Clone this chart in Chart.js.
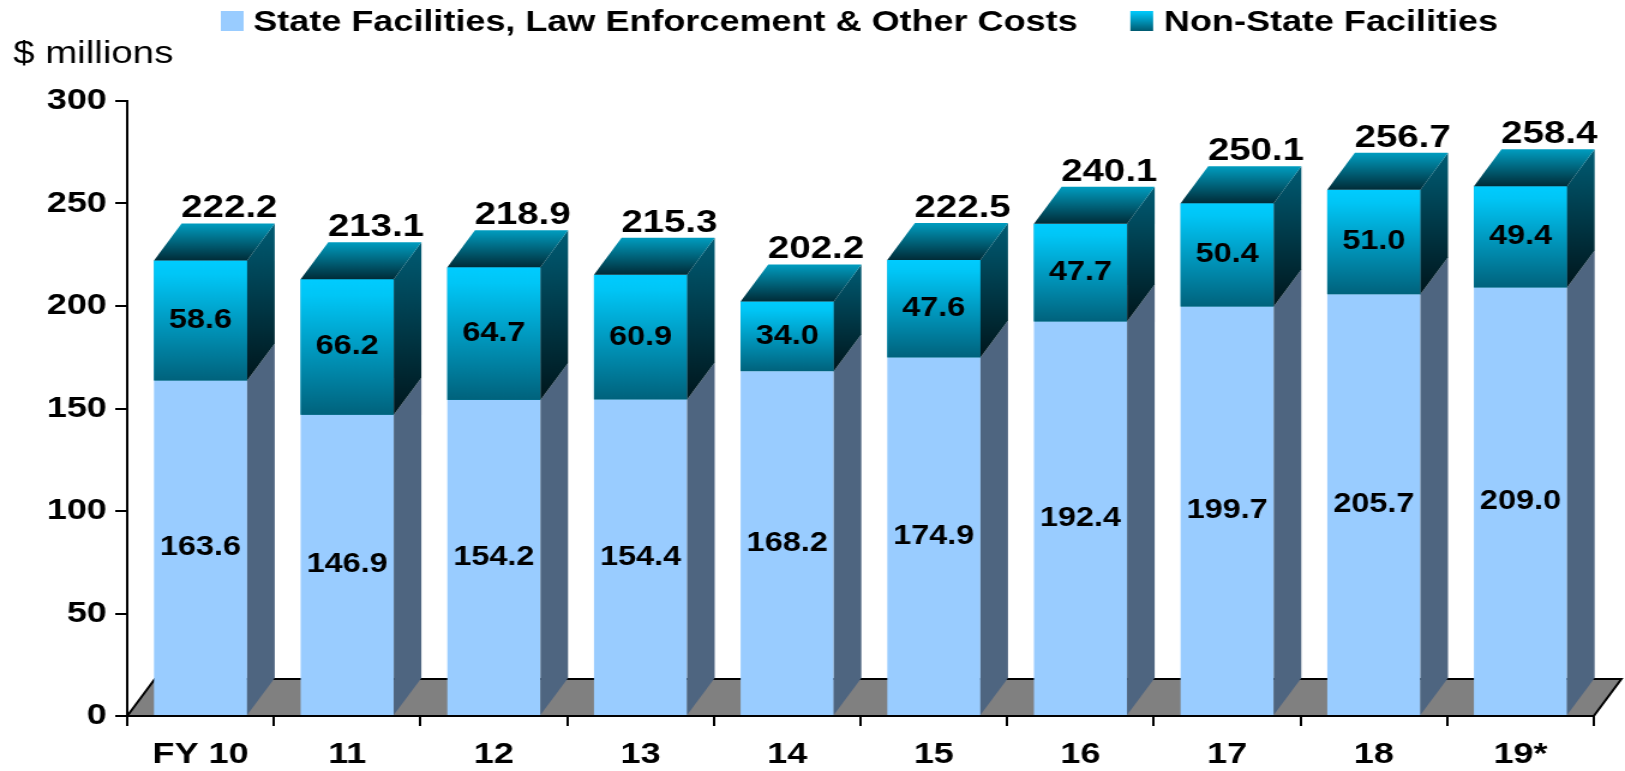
<!DOCTYPE html>
<html>
<head>
<meta charset="utf-8">
<script src="https://cdn.jsdelivr.net/npm/chart.js@4.4.0/dist/chart.umd.min.js"></script>
<style>
html, body { margin: 0; padding: 0; background: #fff; }
#chart { display: block; width: 1625px !important; height: 771px !important; }
</style>
</head>
<body>
<canvas id="chart" width="1354" height="771" style="width:1625px;height:771px"></canvas>
<script>
const years = ["FY 10", "11", "12", "13", "14", "15", "16", "17", "18", "19*"];
const stateCosts = [163.6, 146.9, 154.2, 154.4, 168.2, 174.9, 192.4, 199.7, 205.7, 209.0];
const nonStateCosts = [58.6, 66.2, 64.7, 60.9, 34.0, 47.6, 47.7, 50.4, 51.0, 49.4];
const yTicks = [0, 50, 100, 150, 200, 250, 300];
const seriesNames = ["State Facilities, Law Enforcement & Other Costs", "Non-State Facilities"];
const unitLabel = "$ millions";

const FONT = '"Liberation Sans", Arial, Helvetica, sans-serif';
// the original picture is stretched sideways (~1.2x), so the canvas is drawn
// narrower and widened by css. DX/DY is the fake 3d depth.
const DX = 23, DY = -37;

function poly(ctx, pts, fill) {
    ctx.beginPath();
    ctx.moveTo(pts[0][0], pts[0][1]);
    for (let i = 1; i < pts.length; i++) ctx.lineTo(pts[i][0], pts[i][1]);
    ctx.closePath();
    ctx.fillStyle = fill;
    ctx.fill();
}

const box3d = {
    id: "box3d",
    beforeDraw(chart) {
        const ctx = chart.ctx;
        const a = chart.chartArea;
        const y0 = chart.scales.y.getPixelForValue(0);
        ctx.save();
        poly(ctx, [[a.left, y0], [a.left + DX, y0 + DY], [a.right + DX, y0 + DY], [a.right, y0]], "#808080");
        ctx.strokeStyle = "#000";
        ctx.lineWidth = 2;
        ctx.beginPath();
        ctx.moveTo(a.left, y0);
        ctx.lineTo(a.left + DX, y0 + DY);
        ctx.lineTo(a.right + DX, y0 + DY);
        ctx.lineTo(a.right, y0);
        ctx.stroke();
        ctx.restore();
    },
    afterDatasetsDraw(chart) {
        const ctx = chart.ctx;
        const a = chart.chartArea;
        const low = chart.getDatasetMeta(0).data;
        const up = chart.getDatasetMeta(1).data;
        ctx.save();
        low.forEach((bar, i) => {
            const w = bar.width;
            const xl = bar.x - w / 2, xr = bar.x + w / 2;
            const yb = bar.base, ym = bar.y, yt = up[i].y;

            // lower side
            poly(ctx, [[xr, yb], [xr + DX, yb + DY], [xr + DX, ym + DY], [xr, ym]], "#4E6580");

            // upper front
            let g = ctx.createLinearGradient(0, yt, 0, ym);
            g.addColorStop(0, "#00CCFF");
            g.addColorStop(0.12, "#00C6F6");
            g.addColorStop(1, "#00627C");
            ctx.fillStyle = g;
            ctx.fillRect(xl, yt, w, ym - yt);

            // upper side
            g = ctx.createLinearGradient(0, yt + DY, 0, ym);
            g.addColorStop(0, "#005C74");
            g.addColorStop(1, "#00161C");
            poly(ctx, [[xr, ym], [xr + DX, ym + DY], [xr + DX, yt + DY], [xr, yt]], g);

            // top
            g = ctx.createLinearGradient(0, yt + DY, 0, yt);
            g.addColorStop(0, "#009DC0");
            g.addColorStop(1, "#002C38");
            poly(ctx, [[xl, yt], [xl + DX, yt + DY], [xr + DX, yt + DY], [xr, yt]], g);

            // values
            ctx.fillStyle = "#000";
            ctx.textAlign = "center";
            ctx.textBaseline = "middle";
            ctx.font = "bold 27px " + FONT;
            ctx.fillText(stateCosts[i].toFixed(1), bar.x, (yb + ym) / 2);
            ctx.fillText(nonStateCosts[i].toFixed(1), bar.x, (ym + yt) / 2);
            ctx.font = "bold 32px " + FONT;
            ctx.textBaseline = "alphabetic";
            ctx.fillText((stateCosts[i] + nonStateCosts[i]).toFixed(1), bar.x + DX + 1, yt + DY - 6);
        });
        // axis line in front of the bars
        const y0 = chart.scales.y.getPixelForValue(0);
        ctx.strokeStyle = "#000";
        ctx.lineWidth = 2;
        ctx.beginPath();
        ctx.moveTo(a.left, y0);
        ctx.lineTo(a.right, y0);
        ctx.stroke();
        ctx.restore();
    },
    afterDraw(chart) {
        const ctx = chart.ctx;
        ctx.save();
        ctx.textAlign = "left";
        ctx.textBaseline = "alphabetic";
        ctx.fillStyle = "#000";
        ctx.font = "32px " + FONT;
        ctx.fillText(unitLabel, 11, 63);

        // legend
        ctx.font = "bold 30px " + FONT;
        let x = 184;
        ctx.fillStyle = "#99CCFF";
        ctx.fillRect(x, 11, 19, 20);
        ctx.fillStyle = "#000";
        ctx.fillText(seriesNames[0], x + 27, 31);
        x += 27 + ctx.measureText(seriesNames[0]).width + 44;
        const g = ctx.createLinearGradient(0, 11, 0, 31);
        g.addColorStop(0, "#00CCFF");
        g.addColorStop(1, "#005A70");
        ctx.fillStyle = g;
        ctx.fillRect(x, 11, 19, 20);
        ctx.fillStyle = "#000";
        ctx.fillText(seriesNames[1], x + 28, 31);
        ctx.restore();
    }
};

Chart.defaults.font.family = FONT;

const config = {
    type: "bar",
    data: {
        labels: years,
        datasets: [
            {
                label: seriesNames[0],
                data: stateCosts,
                backgroundColor: "#99CCFF",
                borderWidth: 0,
                barPercentage: 0.635,
                categoryPercentage: 1,
            },
            {
                label: seriesNames[1],
                data: nonStateCosts,
                backgroundColor: "#00A0CC",
                borderWidth: 0,
                barPercentage: 0.635,
                categoryPercentage: 1,
            },
        ],
    },
    options: {
        responsive: false,
        animation: false,
        devicePixelRatio: 1,
        layout: { padding: { top: 101, right: 26, left: 0, bottom: 0 } },
        plugins: {
            legend: { display: false },
            tooltip: { enabled: false },
        },
        scales: {
            x: {
                stacked: true,
                afterFit: (s) => { s.height = 55; },
                grid: { drawOnChartArea: false, color: "#000", lineWidth: 2, tickLength: 10 },
                border: { color: "#000", width: 2 },
                ticks: { color: "#000", padding: 11, font: { size: 30, weight: "bold" } },
            },
            y: {
                stacked: true,
                min: 0,
                max: 300,
                afterFit: (s) => { s.width = 106; },
                afterBuildTicks: (s) => { s.ticks = yTicks.map((v) => ({ value: v })); },
                grid: { drawOnChartArea: false, color: "#000", lineWidth: 2, tickLength: 10 },
                border: { color: "#000", width: 2 },
                ticks: { color: "#000", padding: 7, font: { size: 30, weight: "bold" } },
            },
        },
    },
    plugins: [box3d],
};

const myChart = new Chart(document.getElementById("chart"), config);
</script>
</body>
</html>
